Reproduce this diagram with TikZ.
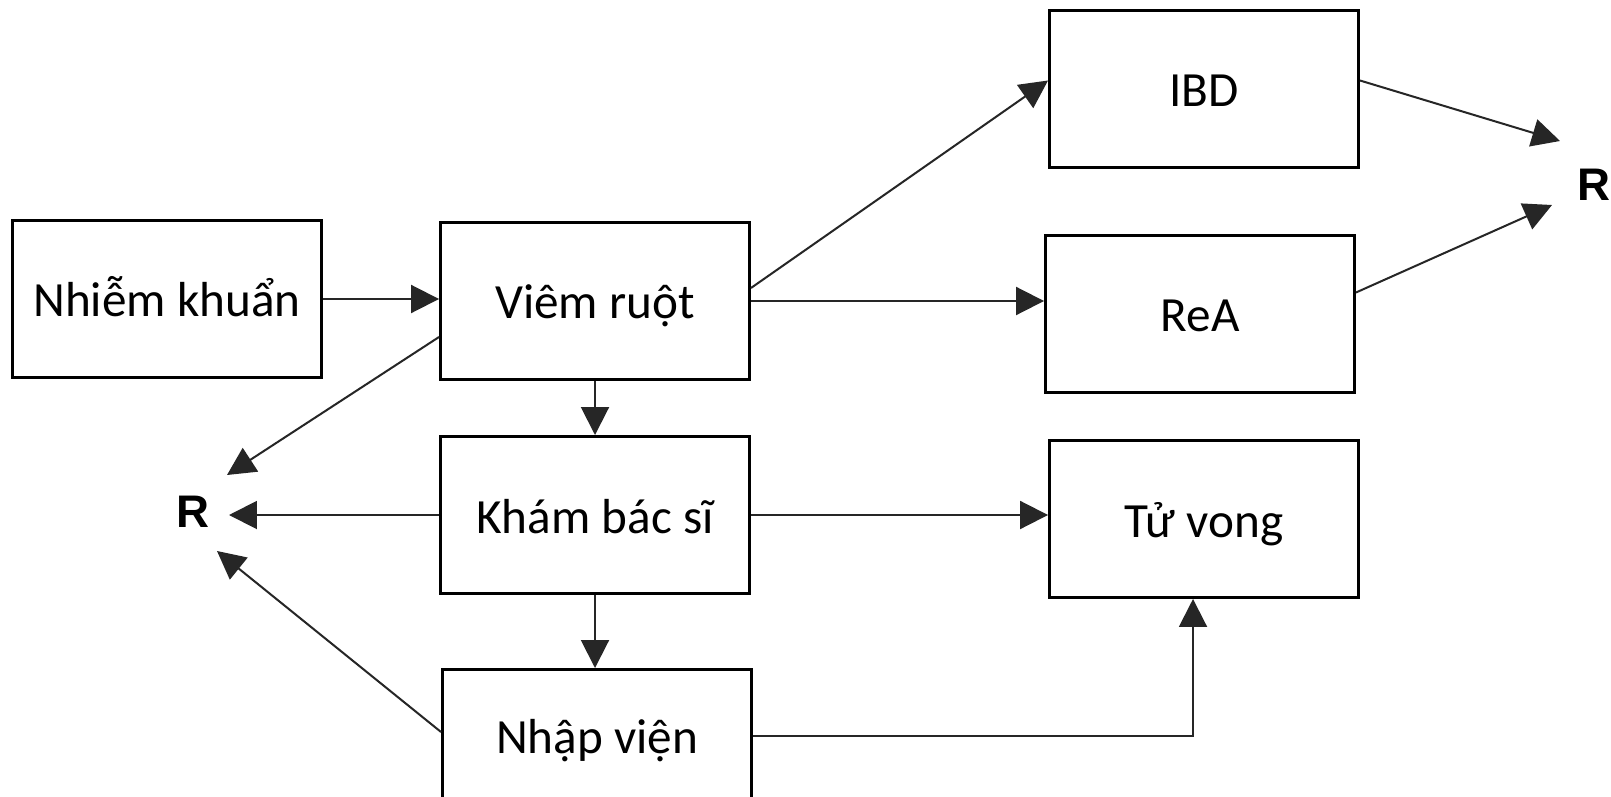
\documentclass[tikz,border=0pt]{standalone}
\usepackage{fontspec}
\setmainfont{Carlito}
\newfontfamily\rfont{Liberation Sans}
\usetikzlibrary{arrows.meta,calc}

\begin{document}
\begin{tikzpicture}[
    x=0.02cm, y=0.02cm,
    box/.style={draw=black, line width=0.06cm, fill=white, align=center,
                minimum width=6.18cm, minimum height=3.14cm, inner sep=0pt,
                text height=0.9cm, text depth=0.18cm,
                font=\fontsize{28pt}{33pt}\selectfont},
    rlab/.style={inner sep=0pt, font=\rfont\bfseries\fontsize{26pt}{31pt}\selectfont},
    arr/.style={-{Triangle[length=0.56cm,width=0.56cm]}, line width=0.04cm, draw=black!85}
]
\useasboundingbox (0,0) rectangle (1611,-797);
\clip (0,0) rectangle (1611,-797);
\fill[white] (0,0) rectangle (1611,-797);

% boxes
\node[box] (infec)  at (167,-299)  {Nhiễm khuẩn};
\node[box] (viem)   at (595,-301)  {Viêm ruột};
\node[box] (kham)   at (595,-515)  {Khám bác sĩ};
\node[box, text depth=0.7cm] (nhap) at (597,-748) {Nhập viện};
\node[box] (ibd)    at (1204,-89)  {IBD};
\node[box] (rea)    at (1200,-314) {ReA};
\node[box] (tuvong) at (1204,-519) {Tử vong};

% recovery labels
\node[rlab] (rleft)  at (193,-512) {R};
\node[rlab] (rright) at (1594,-185) {R};
\coordinate (rin1) at (1560,-141);
\coordinate (rin2) at (1552,-205);
\coordinate (lin1) at (227,-475);
\coordinate (lin2) at (229,-515);
\coordinate (lin3) at (217,-551);

% arrows
\draw[arr] (infec.east) -- (infec.east -| viem.west);
\draw[arr] ([yshift=0.26cm]viem.east) -- ([yshift=0.17cm]ibd.west);
\draw[arr] (viem.east) -- (viem.east -| rea.west);
\draw[arr] ([yshift=0.17cm]ibd.east) -- (rin1);
\draw[arr] ([yshift=0.43cm]rea.east) -- (rin2);
\draw[arr] ([yshift=-0.72cm]viem.west) -- (lin1);
\draw[arr] (kham.west) -- (lin2);
\draw[arr] ([yshift=0.32cm]nhap.west) -- (lin3);
\draw[arr] (viem.south) -- (viem.south |- kham.north);
\draw[arr] (kham.south) -- (kham.south |- nhap.north);
\draw[arr] (kham.east) -- (kham.east -| tuvong.west);
\draw[arr] ([yshift=0.24cm]nhap.east) -| ([xshift=-0.22cm]tuvong.south);
\end{tikzpicture}
\end{document}
